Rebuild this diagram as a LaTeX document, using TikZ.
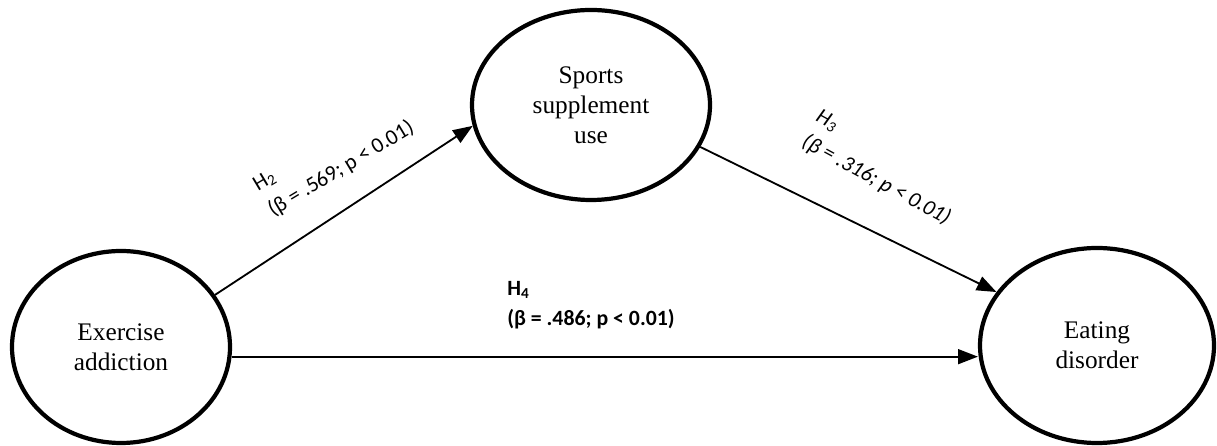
\documentclass[tikz,border=0pt]{standalone}
\usepackage{fontspec}
\setmainfont{Liberation Serif}
\newfontfamily\labelfont{Carlito}
\usepackage{tikz}
\usetikzlibrary{shapes.geometric, arrows.meta, positioning}

\begin{document}
\begin{tikzpicture}[
    construct/.style={draw, ellipse, line width=3pt, font=\fontsize{18}{21.5}\selectfont, align=center, inner sep=0pt},
    path/.style={line width=1.3pt, -{Triangle[length=14pt, width=10.5pt]}},
    coef/.style={font=\labelfont\fontsize{15.5}{21}\selectfont, align=left, inner sep=0pt}
]
    \useasboundingbox (0,0) rectangle (30.425,11.15);
    % latent constructs
    \node[construct, minimum width=5.45cm, minimum height=4.8cm] (exercise) at (3.025,2.475) {Exercise\\addiction};
    \node[construct, minimum width=5.95cm, minimum height=4.75cm] (supplement) at (14.775,8.525) {Sports\\supplement\\use};
    \node[construct, minimum width=5.85cm, minimum height=4.875cm] (eating) at (27.425,2.5125) {Eating\\disorder};

    % structural paths
    \draw[path] (exercise.29) -- (supplement.190);
    \draw[path] (supplement.-21) -- (eating.152);
    \draw[path] (exercise.-5) -- (exercise.-5 -| eating.west);

    % path coefficients
    \node[coef, rotate=31] (h2) at (8.35,7.225) {H\textsubscript{2}\\(β = .569; p < 0.01)};
    \node[coef, rotate=-28.5, font=\labelfont\itshape\fontsize{15.5}{21}\selectfont] (h3) at (22.075,6.95) {H\textsubscript{3}\\(β = .316; p < 0.01)};
    \node[coef, anchor=west, font=\labelfont\bfseries\fontsize{15.5}{21}\selectfont] (h4) at (12.675,3.525) {H\textsubscript{4}\\(β = .486; p < 0.01)};
\end{tikzpicture}
\end{document}
